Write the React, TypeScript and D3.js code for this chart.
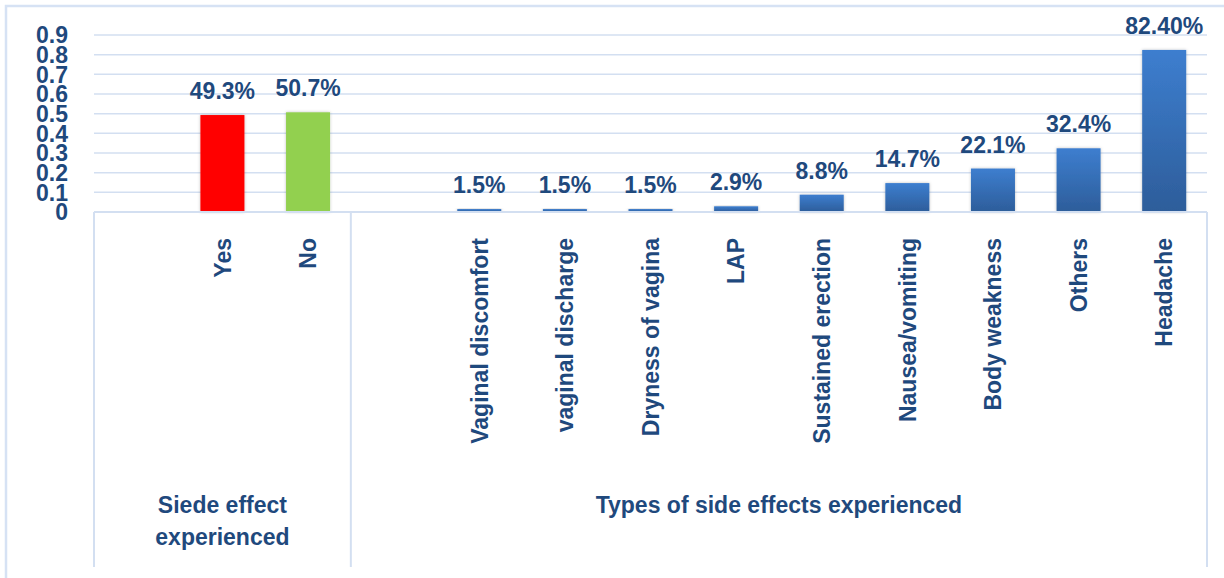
import React, { useEffect, useRef } from "react";
import * as d3 from "d3";

// two category groups, each starts with an empty slot (as in the source sheet)
const groupNames = [["Siede effect", "experienced"], ["Types of side effects experienced"]];
const groupOneCategories = ["", "Yes", "No"];
const groupOneValues = [null, 0.493, 0.507];
const groupOneLabels = ["", "49.3%", "50.7%"];
const groupTwoCategories = [
  "",
  "Vaginal discomfort",
  "vaginal discharge",
  "Dryness of vagina",
  "LAP",
  "Sustained erection",
  "Nausea/vomiting",
  "Body weakness",
  "Others",
  "Headache",
];
const groupTwoValues = [null, 0.015, 0.015, 0.015, 0.029, 0.088, 0.147, 0.221, 0.324, 0.824];
const groupTwoLabels = ["", "1.5%", "1.5%", "1.5%", "2.9%", "8.8%", "14.7%", "22.1%", "32.4%", "82.40%"];
const yTicks = [0, 0.1, 0.2, 0.3, 0.4, 0.5, 0.6, 0.7, 0.8, 0.9];

const W = 1224, H = 578;
const TEXT = "#1F497D";
const GRID = "#D3DFF1";
const FONT = "'Liberation Sans', Arial, sans-serif";

export default function App() {
  const ref = useRef<SVGSVGElement>(null);

  useEffect(() => {
    const svg = d3.select(ref.current);
    svg.selectAll("*").remove();

    const rows = [
      ...groupOneCategories.map((c, i) => ({ key: `a${i}`, name: c, v: groupOneValues[i], lab: groupOneLabels[i], g: 0, i })),
      ...groupTwoCategories.map((c, i) => ({ key: `b${i}`, name: c, v: groupTwoValues[i], lab: groupTwoLabels[i], g: 1, i })),
    ];

    const left = 94, right = 1207, base = 212, bottom = 567;
    const x = d3.scaleBand().domain(rows.map(d => d.key)).range([left, right]).paddingInner(0.486).paddingOuter(0.243);
    const y = d3.scaleLinear().domain([0, 0.9]).range([base, 35]);

    const defs = svg.append("defs");
    const grad = defs.append("linearGradient").attr("id", "blueGrad").attr("x1", 0).attr("y1", 0).attr("x2", 0).attr("y2", 1);
    grad.append("stop").attr("offset", "0%").attr("stop-color", "#3D7ECF");
    grad.append("stop").attr("offset", "100%").attr("stop-color", "#2D5D9A");
    const f = defs.append("filter").attr("id", "shadow").attr("x", "-20%").attr("y", "-20%").attr("width", "140%").attr("height", "140%");
    f.append("feDropShadow").attr("dx", 0).attr("dy", 0).attr("stdDeviation", 1.5).attr("flood-color", "#000").attr("flood-opacity", 0.25);

    // outer border
    svg.append("path").attr("d", `M6,${H} V6 H${W}`).attr("fill", "none").attr("stroke", "#D6E2F4").attr("stroke-width", 2.5);

    // gridlines
    svg.append("g").selectAll("line").data(yTicks.filter(t => t > 0)).join("line")
      .attr("x1", left).attr("x2", right).attr("y1", d => y(d)).attr("y2", d => y(d))
      .attr("stroke", GRID).attr("stroke-width", 1.5);

    // y labels
    svg.append("g").selectAll("text").data(yTicks).join("text")
      .attr("x", 68).attr("y", d => y(d)).attr("dy", "0.36em").attr("text-anchor", "end")
      .attr("font-family", FONT).attr("font-weight", "bold").attr("font-size", 23).attr("fill", TEXT)
      .text(d => d3.format("")(d));

    // bars
    const data = rows.filter(d => d.v != null);
    svg.append("g").selectAll("rect").data(data).join("rect")
      .attr("x", d => x(d.key)!).attr("width", x.bandwidth())
      .attr("y", d => y(d.v!)).attr("height", d => base - y(d.v!))
      .attr("fill", d => d.g === 1 ? "url(#blueGrad)" : d.i === 1 ? "#FF0000" : "#92D050")
      .attr("filter", "url(#shadow)");

    // value labels
    svg.append("g").selectAll("text").data(data).join("text")
      .attr("x", d => x(d.key)! + x.bandwidth() / 2).attr("y", d => y(d.v!) - 16)
      .attr("text-anchor", "middle").attr("font-family", FONT).attr("font-weight", "bold")
      .attr("font-size", 23).attr("fill", TEXT).text(d => d.lab);

    // category axis box
    const step = x.step();
    const bounds = [left, left + step * groupOneCategories.length, right];
    svg.append("line").attr("x1", left).attr("x2", right).attr("y1", base).attr("y2", base)
      .attr("stroke", GRID).attr("stroke-width", 2);
    svg.append("g").selectAll("line").data(bounds).join("line")
      .attr("x1", d => d).attr("x2", d => d).attr("y1", base).attr("y2", bottom)
      .attr("stroke", GRID).attr("stroke-width", 2);

    // category labels rotated
    svg.append("g").selectAll("text").data(rows.filter(d => d.name)).join("text")
      .attr("transform", d => `translate(${x(d.key)! + x.bandwidth() / 2},238) rotate(-90)`)
      .attr("dy", "0.36em").attr("text-anchor", "end")
      .attr("font-family", FONT).attr("font-weight", "bold").attr("font-size", 23).attr("fill", TEXT)
      .text(d => d.name);

    // group labels
    groupNames.forEach((lines, gi) => {
      const cx = (bounds[gi] + bounds[gi + 1]) / 2;
      const t = svg.append("text").attr("text-anchor", "middle").attr("font-family", FONT)
        .attr("font-weight", "bold").attr("font-size", 23).attr("fill", TEXT);
      lines.forEach((ln, li) => {
        t.append("tspan").attr("x", cx).attr("y", 513 + li * 32).text(ln);
      });
    });
  }, []);

  return (
    <div style={{ position: "absolute", left: 0, top: 0, background: "#fff" }}>
      <svg ref={ref} width={W} height={H} style={{ display: "block" }} />
    </div>
  );
}
